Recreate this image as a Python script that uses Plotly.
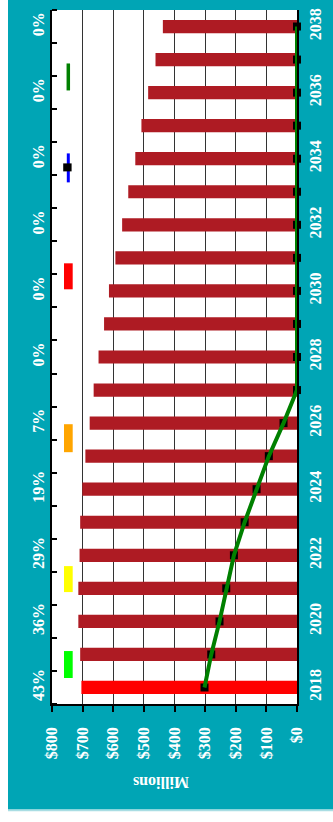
import plotly.graph_objects as go

# ---- data ----
years = list(range(2018, 2039))
bar_values = [704, 708, 714, 714, 710, 708, 701, 691, 677, 664, 648, 630,
              614, 593, 571, 551, 528, 508, 486, 462, 438]
line_values = [302, 280, 253, 231, 206, 171, 132, 92, 44, 0, 0, 0,
               0, 0, 0, 0, 0, 0, 0, 0, 0]
pct_years = [2018, 2020, 2022, 2024, 2026, 2028, 2030, 2032, 2034, 2036, 2038]
pct_labels = ["43%", "36%", "29%", "19%", "7%", "0%", "0%", "0%", "0%", "0%", "0%"]
year_ticks = [2018, 2020, 2022, 2024, 2026, 2028, 2030, 2032, 2034, 2036, 2038]
dollar_ticks = [0, 100, 200, 300, 400, 500, 600, 700, 800]

TEAL = "#00A5B5"
BAR = "#AE1B23"
FONT = dict(family="Liberation Serif", size=16, color="white")

W, H = 333, 822
L, R, T, B = 52, 297, 9.5, 704  # plot area in pixels


def px(x):
    return (x - L) / (R - L)


def py(y):
    return (B - y) / (B - T)


bar_colors = ["#FF0000"] + [BAR] * (len(years) - 1)

fig = go.Figure()
fig.add_trace(go.Bar(x=bar_values, y=years, orientation="h", width=0.4,
                     marker=dict(color=bar_colors, line=dict(width=0)),
                     hoverinfo="skip", showlegend=False))
fig.add_trace(go.Scatter(x=line_values, y=years, mode="lines+markers",
                         line=dict(color="blue", width=2),
                         marker=dict(symbol="square", size=8, color="black"),
                         cliponaxis=False, showlegend=False))
fig.add_trace(go.Scatter(x=line_values, y=years, mode="lines", yaxis="y2",
                         line=dict(color="#008000", width=4),
                         cliponaxis=False, showlegend=False))

shapes = [
    dict(type="rect", xref="paper", yref="paper", layer="below",
         x0=px(8), x1=px(334), y0=py(809.5), y1=py(-1),
         fillcolor=TEAL, line=dict(width=0)),
    dict(type="line", xref="paper", yref="paper", layer="below",
         x0=px(8), x1=px(334), y0=py(810.5), y1=py(810.5),
         line=dict(color="#A9DDE3", width=1.5)),
    dict(type="rect", xref="paper", yref="paper", layer="below",
         x0=0, x1=1, y0=0, y1=1, fillcolor="white", line=dict(width=0)),
]
# legend-like swatches
for (y0, y1, c) in [(651, 678, "#00FF00"), (566, 592, "#FFFF00"),
                    (424, 452, "#FFA500"), (263, 289, "#FF0000")]:
    shapes.append(dict(type="rect", xref="paper", yref="paper",
                       x0=px(64), x1=px(72.7), y0=py(y1), y1=py(y0),
                       fillcolor=c, line=dict(width=0)))
shapes.append(dict(type="line", xref="paper", yref="paper",
                   x0=px(68.3), x1=px(68.3), y0=py(182), y1=py(153),
                   line=dict(color="blue", width=3)))
shapes.append(dict(type="rect", xref="paper", yref="paper",
                   x0=px(63.2), x1=px(71.6), y0=py(171), y1=py(163),
                   fillcolor="black", line=dict(width=0)))
shapes.append(dict(type="line", xref="paper", yref="paper",
                   x0=px(68.3), x1=px(68.3), y0=py(90), y1=py(63),
                   line=dict(color="#008000", width=3.5)))

fig.update_layout(
    width=W, height=H,
    margin=dict(l=L, r=W - R, t=T, b=H - B, pad=0, autoexpand=False),
    paper_bgcolor="white",
    plot_bgcolor="white",
    shapes=shapes,
    showlegend=False,
    xaxis=dict(range=[800, 0], tickvals=dollar_ticks,
               ticktext=["$" + str(v) for v in dollar_ticks],
               tickangle=-90, tickfont=dict(FONT, weight="bold"),
               ticks="outside", ticklen=6, tickwidth=1.5, tickcolor="black",
               ticklabelstandoff=9, automargin=False,
               showline=True, linecolor="black", linewidth=1.5,
               showgrid=True, gridcolor="#333333", gridwidth=1.2,
               zeroline=False, fixedrange=True),
    yaxis=dict(range=[2017.5, 2038.5], tickvals=pct_years, ticktext=pct_labels,
               tickangle=-90, tickfont=dict(FONT, weight="bold"),
               ticks="", automargin=False,
               showline=True, linecolor="black", linewidth=1.5,
               showgrid=False, zeroline=False,
               minor=dict(tickvals=[y - 0.5 for y in years] + [years[-1] + 0.5],
                          ticks="inside", ticklen=5, tickwidth=1.5,
                          tickcolor="black", showgrid=False)),
    yaxis2=dict(range=[2017.5, 2038.5], overlaying="y", side="right",
                tickvals=year_ticks, ticktext=[str(y) for y in year_ticks],
                tickangle=-90, tickfont=dict(FONT, weight="bold"),
                ticks="", ticklabelstandoff=3, automargin=False,
                showline=True, linecolor="black", linewidth=1.5,
                showgrid=False, zeroline=False),
    annotations=[dict(text="<b>Millions</b>", xref="paper", yref="paper",
                      x=px(161), y=py(782), showarrow=False, textangle=180,
                      font=FONT, xanchor="center", yanchor="middle")],
)

fig.write_html("out.html")
